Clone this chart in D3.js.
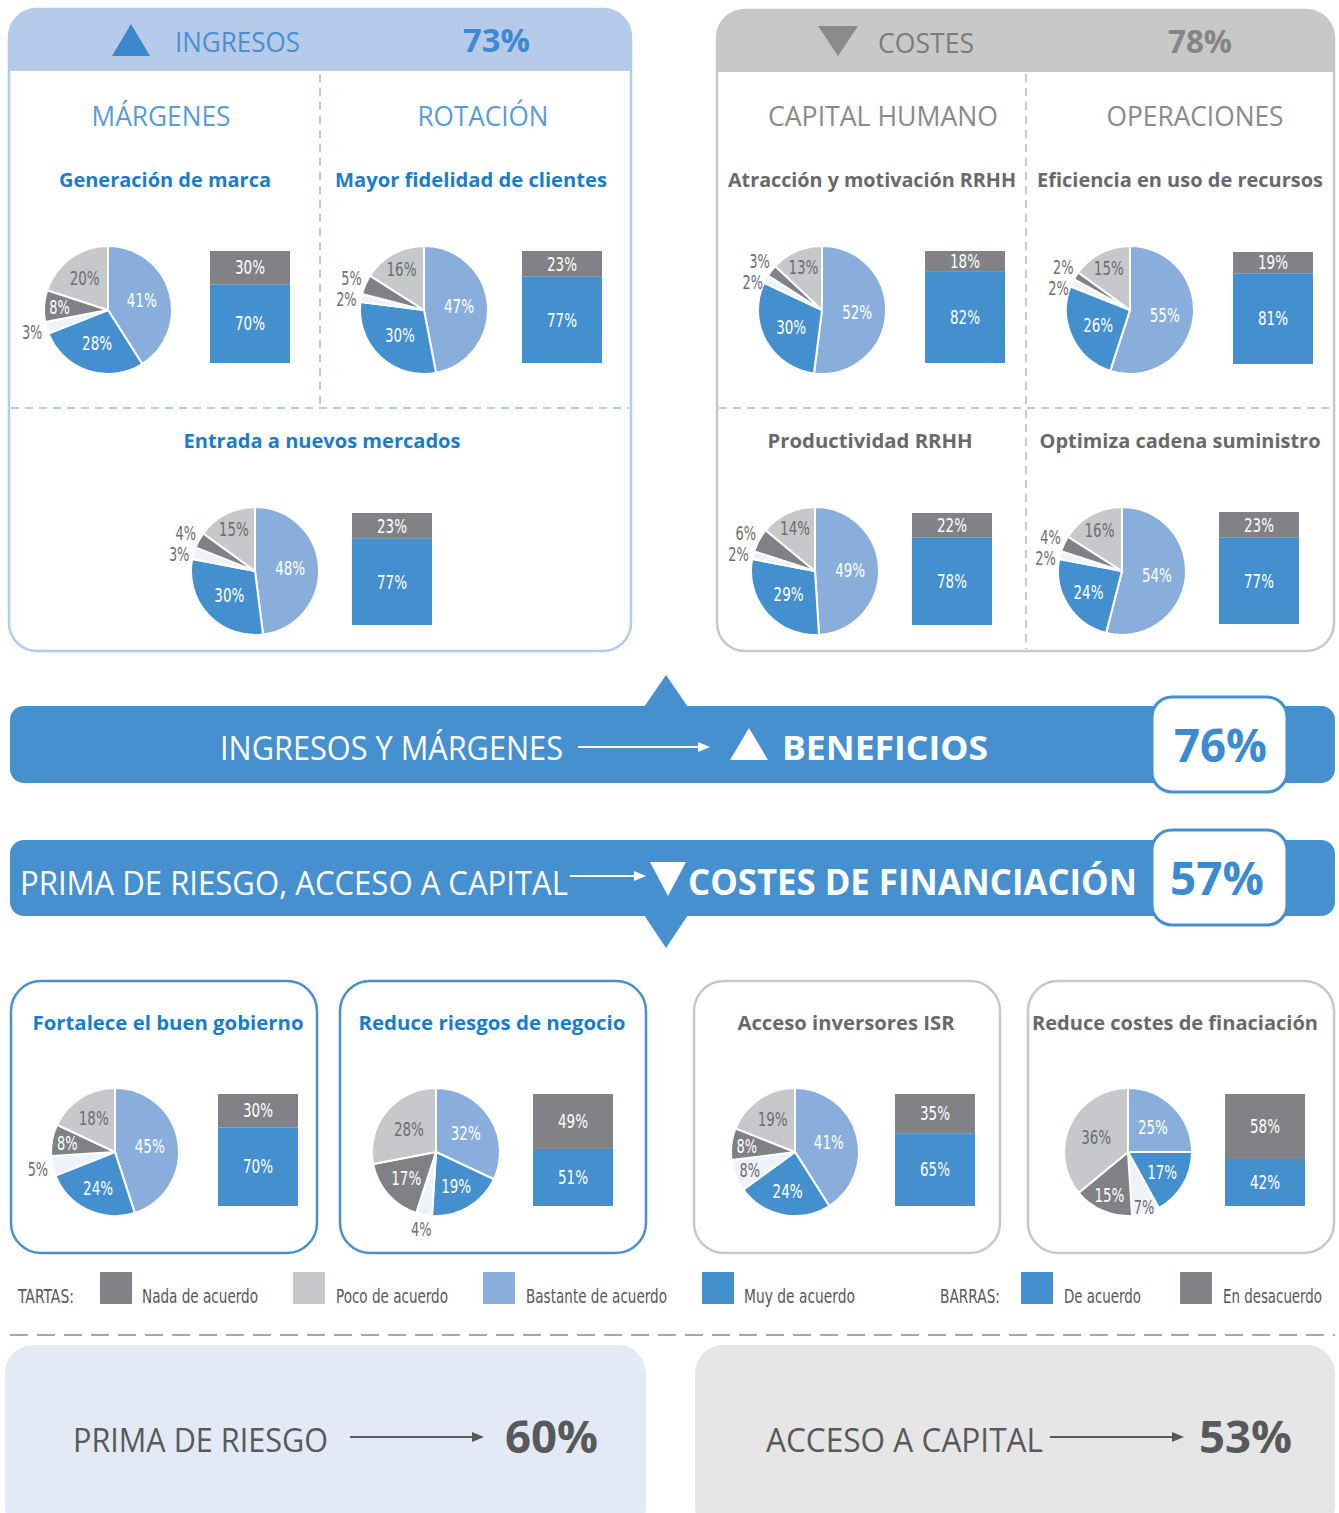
<!DOCTYPE html>
<html>
<head>
<meta charset="utf-8">
<script src="https://cdn.jsdelivr.net/npm/d3@7"></script>
<style>
  body { margin: 0; background: #fff; }
  svg text { font-family: "Open Sans", "Noto Sans", sans-serif; }
  svg text.num { font-family: "Liberation Sans Narrow", "DejaVu Sans Condensed", "Roboto", sans-serif; }
</style>
</head>
<body>
<svg id="chart" width="1339" height="1513"></svg>
<script>
// ---- data ----
var chartTitles = ["Generación de marca", "Mayor fidelidad de clientes", "Entrada a nuevos mercados",
  "Atracción y motivación RRHH", "Eficiencia en uso de recursos", "Productividad RRHH",
  "Optimiza cadena suministro", "Fortalece el buen gobierno", "Reduce riesgos de negocio",
  "Acceso inversores ISR", "Reduce costes de finaciación"];
var pieKeys = ["Bastante de acuerdo", "Muy de acuerdo", "Ns/Nc", "Nada de acuerdo", "Poco de acuerdo"];
var pieBastante = [41, 47, 48, 52, 55, 49, 54, 45, 32, 41, 25];
var pieMuy      = [28, 30, 30, 30, 26, 29, 24, 24, 19, 24, 17];
var pieNsnc     = [3, 2, 3, 2, 2, 2, 2, 5, 4, 8, 7];
var pieNada     = [8, 5, 4, 3, 2, 6, 4, 8, 17, 8, 15];
var piePoco     = [20, 16, 15, 13, 15, 14, 16, 18, 28, 19, 36];
var barKeys = ["En desacuerdo", "De acuerdo"];
var barDesacuerdo = [30, 23, 23, 18, 19, 22, 23, 30, 49, 35, 58];
var barAcuerdo    = [70, 77, 77, 82, 81, 78, 77, 70, 51, 65, 42];
var sectionNames = ["MÁRGENES", "ROTACIÓN", "CAPITAL HUMANO", "OPERACIONES"];
var headlineNames = ["INGRESOS", "COSTES", "BENEFICIOS", "COSTES DE FINANCIACIÓN", "PRIMA DE RIESGO", "ACCESO A CAPITAL"];
var headlineValues = [73, 78, 76, 57, 60, 53];
var driverNames = ["INGRESOS Y MÁRGENES", "PRIMA DE RIESGO, ACCESO A CAPITAL"];
var legendPie = ["Nada de acuerdo", "Poco de acuerdo", "Bastante de acuerdo", "Muy de acuerdo"];
var legendBar = ["De acuerdo", "En desacuerdo"];

var pieSeries = [pieBastante, pieMuy, pieNsnc, pieNada, piePoco];

// ---- styles / layout ----
var BLUE = "#448fce", LBLUE = "#89aedc", PALE = "#eef3fa", DGREY = "#808184", LGREY = "#c7c8ca";
var TXT = "#6d6e71";
var colorPie = d3.scaleOrdinal().domain(pieKeys).range([LBLUE, BLUE, PALE, DGREY, LGREY]);
var colorBar = d3.scaleOrdinal().domain(barKeys).range(["#818285", BLUE]);
var colorLegend = d3.scaleOrdinal().domain(legendPie.concat(legendBar))
  .range([DGREY, LGREY, LBLUE, BLUE, BLUE, "#818285"]);

var R = 64, barW = 80, barH = 112;

// positions of each small chart: pie centre, bar top-left, title centre, theme
var slots = [
  { px: 108, py: 310, bx: 210, by: 251, tx: 165, ty: 187, tw: 212, blue: true },
  { px: 424, py: 310, bx: 522, by: 251, tx: 471, ty: 187, tw: 272, blue: true },
  { px: 255, py: 571, bx: 352, by: 513, tx: 322, ty: 448, tw: 277, blue: true },
  { px: 822, py: 310, bx: 925, by: 251, tx: 872, ty: 187, tw: 288, blue: false },
  { px: 1130, py: 310, bx: 1233, by: 252, tx: 1180, ty: 187, tw: 286, blue: false },
  { px: 815, py: 571, bx: 912, by: 513, tx: 870, ty: 448, tw: 205, blue: false },
  { px: 1122, py: 571, bx: 1219, by: 512, tx: 1180, ty: 448, tw: 281, blue: false },
  { px: 115, py: 1152, bx: 218, by: 1094, tx: 168, ty: 1030, tw: 271, blue: true },
  { px: 436, py: 1152, bx: 533, by: 1094, tx: 492, ty: 1030, tw: 267, blue: true },
  { px: 795, py: 1152, bx: 895, by: 1094, tx: 846, ty: 1030, tw: 217, blue: false },
  { px: 1128, py: 1152, bx: 1225, by: 1094, tx: 1175, ty: 1030, tw: 286, blue: false }
];

var svg = d3.select("#chart");

function label(parent, x, y, str, o) {
  var t = parent.append("text")
    .attr("x", x).attr("y", y)
    .attr("font-size", o.size)
    .attr("fill", o.fill)
    .attr("text-anchor", o.anchor || "start")
    .attr("font-weight", o.weight || 400)
    .text(str);
  if (o.cls) t.attr("class", o.cls);
  if (o.w) t.attr("textLength", o.w).attr("lengthAdjust", "spacingAndGlyphs");
  return t;
}

// condensed width for the small % labels
function pctWidth(v) {
  return String(v).length * 9.5 + 11;
}

function tri(parent, pts, fill) {
  parent.append("path").attr("d", "M" + pts.join("L") + "Z").attr("fill", fill);
}

function arrow(parent, x1, x2, y, col, w) {
  parent.append("line").attr("x1", x1).attr("x2", x2 - 10).attr("y1", y).attr("y2", y)
    .attr("stroke", col).attr("stroke-width", w);
  tri(parent, [[x2 - 12, y - 5], [x2, y], [x2 - 12, y + 5]], col);
}

// ---- top panels ----
var defs = svg.append("defs");
function panel(x, y, w, h, col, headFill) {
  var id = "clip" + x;
  defs.append("clipPath").attr("id", id).append("rect")
    .attr("x", x).attr("y", y).attr("width", w).attr("height", h).attr("rx", 28);
  svg.append("rect").attr("x", x).attr("y", y).attr("width", w).attr("height", 62)
    .attr("fill", headFill).attr("clip-path", "url(#" + id + ")");
  svg.append("rect").attr("x", x).attr("y", y).attr("width", w).attr("height", h).attr("rx", 28)
    .attr("fill", "none").attr("stroke", col).attr("stroke-width", 2.5);
}
panel(9, 9, 622, 642, "#b5cbe9", "#b5cbe9");
panel(717, 10, 617, 641, "#c8c8c9", "#c8c8c9");

function dashed(x1, y1, x2, y2, col) {
  svg.append("line").attr("x1", x1).attr("y1", y1).attr("x2", x2).attr("y2", y2)
    .attr("stroke", col).attr("stroke-width", 2).attr("stroke-dasharray", "8,6");
}
dashed(320, 74, 320, 406, "#b5cbe9");
dashed(11, 408, 629, 408, "#b5cbe9");
dashed(1026, 74, 1026, 649, "#c8c8c9");
dashed(719, 408, 1332, 408, "#c8c8c9");

tri(svg, [[112, 56], [150, 56], [131, 24]], "#3a87cd");
label(svg, 175, 52, headlineNames[0], { size: 28, fill: "#4a8fd4", w: 125 });
label(svg, 463, 52, headlineValues[0] + "%", { size: 32, fill: "#3e8ad0", weight: 700, w: 67 });
tri(svg, [[818, 26], [858, 26], [838, 56]], "#8a8a8b");
label(svg, 878, 53, headlineNames[1], { size: 28, fill: "#7c7c7d", w: 96 });
label(svg, 1168, 53, headlineValues[1] + "%", { size: 32, fill: "#858586", weight: 700, w: 64 });

var sectionPos = [[161, 126, 139, "#5b9bd8"], [483, 126, 131, "#5b9bd8"], [883, 126, 230, "#8a8a8b"], [1195, 126, 177, "#8a8a8b"]];
sectionNames.forEach(function (n, i) {
  var p = sectionPos[i];
  label(svg, p[0], p[1], n, { size: 27, fill: p[3], anchor: "middle", w: p[2] });
});

// ---- bottom cards ----
[[11, "#4a8fd0"], [340, "#4a8fd0"], [694, "#c8c8c9"], [1028, "#c8c8c9"]].forEach(function (c) {
  svg.append("rect").attr("x", c[0]).attr("y", 981).attr("width", 306).attr("height", 272).attr("rx", 30)
    .attr("fill", "none").attr("stroke", c[1]).attr("stroke-width", 2.5);
});

// ---- pies + bars ----
var pie = d3.pie().sort(null).value(function (d) { return d.value; });
var arc = d3.arc().innerRadius(0).outerRadius(R);
var yBar = d3.scaleLinear().domain([0, 100]).range([0, barH]);

function labelRadius(v) {
  if (v <= 6) return R + 15;      // outside
  if (v <= 7) return R * 0.9;
  if (v <= 10) return R * 0.76;
  if (v < 17) return R * 0.73;
  if (v < 25) return R * 0.62;
  return R * 0.55;
}

function drawChart(i) {
  var s = slots[i];
  label(svg, s.tx, s.ty, chartTitles[i], { size: 20, weight: 700, anchor: "middle",
    fill: s.blue ? "#1b7cc8" : "#69696b", w: s.tw });

  var rows = pieKeys.map(function (k, j) { return { key: k, value: pieSeries[j][i] }; });
  var arcs = pie(rows);
  var g = svg.append("g").attr("transform", "translate(" + s.px + "," + s.py + ")");
  g.selectAll("path").data(arcs).enter().append("path")
    .attr("d", arc)
    .attr("fill", function (d) { return colorPie(d.data.key); })
    .attr("stroke", "#fff").attr("stroke-width", 2);

  var outside = [];
  arcs.forEach(function (a) {
    var mid = (a.startAngle + a.endAngle) / 2, v = a.data.value, rr = labelRadius(v);
    var col = (a.data.key === "Poco de acuerdo" || a.data.key === "Ns/Nc" || v <= 6) ? TXT : "#fff";
    var o = { x: Math.sin(mid) * rr, y: -Math.cos(mid) * rr, v: v, col: col };
    if (v <= 6) outside.push(o);
    else drawPct(g, o);
  });
  outside.sort(function (a, b) { return a.y - b.y; });
  for (var k = 1; k < outside.length; k++) {
    if (outside[k].y - outside[k - 1].y < 21) outside[k].y = outside[k - 1].y + 21;
  }
  outside.forEach(function (o) { drawPct(g, o); });

  var b = svg.append("g").attr("transform", "translate(" + s.bx + "," + s.by + ")");
  var segs = [
    { key: barKeys[0], y0: 0, v: barDesacuerdo[i] },
    { key: barKeys[1], y0: barDesacuerdo[i], v: barAcuerdo[i] }
  ];
  b.selectAll("rect").data(segs).enter().append("rect")
    .attr("x", 0).attr("width", barW)
    .attr("y", function (d) { return yBar(d.y0); })
    .attr("height", function (d) { return yBar(d.v); })
    .attr("fill", function (d) { return colorBar(d.key); });
  b.selectAll("text").data(segs).enter().append("text")
    .attr("class", "num")
    .attr("x", barW / 2)
    .attr("y", function (d) { return yBar(d.y0 + d.v / 2); })
    .attr("dy", "0.35em")
    .attr("text-anchor", "middle")
    .attr("font-size", 19).attr("fill", "#fff")
    .attr("textLength", function (d) { return pctWidth(d.v); })
    .attr("lengthAdjust", "spacingAndGlyphs")
    .text(function (d) { return d.v + "%"; });
}

function drawPct(g, o) {
  g.append("text").attr("class", "num")
    .attr("x", o.x).attr("y", o.y).attr("dy", "0.35em")
    .attr("text-anchor", "middle").attr("font-size", 19).attr("fill", o.col)
    .attr("textLength", pctWidth(o.v)).attr("lengthAdjust", "spacingAndGlyphs")
    .text(o.v + "%");
}

chartTitles.forEach(function (t, i) { drawChart(i); });

// ---- banners ----
var BAN = "#4690d0";
svg.append("rect").attr("x", 10).attr("y", 706).attr("width", 1325).attr("height", 77).attr("rx", 14).attr("fill", BAN);
tri(svg, [[644, 707], [688, 707], [666, 675]], BAN);
label(svg, 220, 760, driverNames[0], { size: 32, fill: "#fff", w: 343 });
arrow(svg, 578, 710, 747, "#fff", 2);
tri(svg, [[730, 760], [768, 760], [749, 728]], "#fff");
label(svg, 782, 760, headlineNames[2], { size: 34, fill: "#fff", weight: 700, w: 206 });
svg.append("rect").attr("x", 1152).attr("y", 697).attr("width", 135).attr("height", 95).attr("rx", 20)
  .attr("fill", "#fff").attr("stroke", BAN).attr("stroke-width", 3);
label(svg, 1174, 762, headlineValues[2] + "%", { size: 46, fill: "#3c8bd0", weight: 700, w: 93 });

svg.append("rect").attr("x", 10).attr("y", 840).attr("width", 1325).attr("height", 76).attr("rx", 14).attr("fill", BAN);
tri(svg, [[644, 915], [688, 915], [666, 948]], BAN);
label(svg, 20, 895, driverNames[1], { size: 33, fill: "#fff", w: 548 });
arrow(svg, 570, 646, 876, "#fff", 2);
tri(svg, [[650, 862], [686, 862], [668, 896]], "#fff");
label(svg, 688, 895, headlineNames[3], { size: 36, fill: "#fff", weight: 700, w: 449 });
svg.append("rect").attr("x", 1152).attr("y", 830).attr("width", 135).attr("height", 95).attr("rx", 20)
  .attr("fill", "#fff").attr("stroke", BAN).attr("stroke-width", 3);
label(svg, 1170, 895, headlineValues[3] + "%", { size: 46, fill: "#3c8bd0", weight: 700, w: 94 });

// ---- legend ----
var legY = 1303;
label(svg, 18, legY, "TARTAS:", { size: 20, fill: "#58595b", cls: "num", w: 56 });
label(svg, 940, legY, "BARRAS:", { size: 20, fill: "#58595b", cls: "num", w: 60 });
// swatch x, text end x, text width
var legX = [[100, 258, 116], [293, 448, 112], [483, 667, 141], [702, 855, 111], [1021, 1141, 77], [1180, 1322, 99]];
legendPie.concat(legendBar).forEach(function (n, i) {
  var p = legX[i];
  svg.append("rect").attr("x", p[0]).attr("y", 1272).attr("width", 32).attr("height", 32).attr("fill", colorLegend(n));
  label(svg, p[1], legY, n, { size: 20, fill: "#58595b", cls: "num", anchor: "end", w: p[2] });
});

svg.append("line").attr("x1", 10).attr("x2", 1335).attr("y1", 1335).attr("y2", 1335)
  .attr("stroke", "#a7a8aa").attr("stroke-width", 2).attr("stroke-dasharray", "18,9");

// ---- bottom summary ----
svg.append("rect").attr("x", 5).attr("y", 1345).attr("width", 641).attr("height", 190).attr("rx", 28).attr("fill", "#e3eaf6");
svg.append("rect").attr("x", 695).attr("y", 1345).attr("width", 640).attr("height", 190).attr("rx", 28).attr("fill", "#e6e6e7");
label(svg, 73, 1452, headlineNames[4], { size: 33, fill: "#58595b", w: 255 });
arrow(svg, 350, 484, 1437, "#58595b", 2);
label(svg, 505, 1453, headlineValues[4] + "%", { size: 44, fill: "#58595b", weight: 700, w: 93 });
label(svg, 766, 1452, headlineNames[5], { size: 33, fill: "#58595b", w: 277 });
arrow(svg, 1050, 1184, 1437, "#58595b", 2);
label(svg, 1199, 1453, headlineValues[5] + "%", { size: 44, fill: "#58595b", weight: 700, w: 93 });
</script>
</body>
</html>
